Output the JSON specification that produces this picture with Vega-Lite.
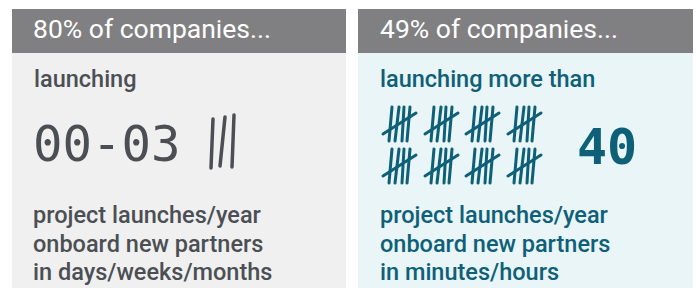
{
  "$schema": "https://vega.github.io/schema/vega-lite/v6.json",
  "width": 696,
  "height": 288,
  "autosize": {"type": "fit", "contains": "padding"},
  "padding": 0,
  "background": "#ffffff",
  "config": {"view": {"stroke": null}, "font": "Roboto"},
  "datasets": {
    "panels": [
      {"panel": "left", "x0": 12, "x1": 346, "top": 9, "mid": 53, "bottom": 288},
      {"panel": "right", "x0": 358, "x1": 693, "top": 9, "mid": 53, "bottom": 288}
    ],
    "texts": [
      {"panel": "left", "role": "header", "text": "80% of companies...", "x": 33, "y": 38},
      {"panel": "right", "role": "header", "text": "49% of companies...", "x": 380, "y": 38},
      {"panel": "left", "role": "body", "text": "launching", "x": 34, "y": 87},
      {"panel": "right", "role": "body", "text": "launching more than", "x": 380, "y": 87},
      {"panel": "left", "role": "body", "text": "project launches/year", "x": 33, "y": 223},
      {"panel": "left", "role": "body", "text": "onboard new partners", "x": 33, "y": 252},
      {"panel": "left", "role": "body", "text": "in days/weeks/months", "x": 33, "y": 280},
      {"panel": "right", "role": "body", "text": "project launches/year", "x": 380, "y": 223},
      {"panel": "right", "role": "body", "text": "onboard new partners", "x": 380, "y": 252},
      {"panel": "right", "role": "body", "text": "in minutes/hours", "x": 380, "y": 280},
      {"panel": "left", "role": "big", "text": "00-03", "x": 33, "y": 161},
      {"panel": "right", "role": "big", "text": "40", "x": 577, "y": 164}
    ],
    "tallies": [
      {"panel": "left", "x": 211, "y": 168, "x2": 213, "y2": 119},
      {"panel": "left", "x": 220, "y": 166, "x2": 225, "y2": 117},
      {"panel": "left", "x": 232, "y": 167, "x2": 234, "y2": 115},

      {"panel": "right", "x": 389, "y": 141, "x2": 392, "y2": 107},
      {"panel": "right", "x": 395, "y": 141, "x2": 399, "y2": 107},
      {"panel": "right", "x": 402, "y": 141, "x2": 404, "y2": 107},
      {"panel": "right", "x": 407, "y": 141, "x2": 410, "y2": 107},
      {"panel": "right", "x": 383, "y": 134, "x2": 416, "y2": 113},

      {"panel": "right", "x": 431, "y": 141, "x2": 434, "y2": 107},
      {"panel": "right", "x": 437, "y": 141, "x2": 441, "y2": 107},
      {"panel": "right", "x": 444, "y": 141, "x2": 446, "y2": 107},
      {"panel": "right", "x": 449, "y": 141, "x2": 452, "y2": 107},
      {"panel": "right", "x": 425, "y": 134, "x2": 458, "y2": 113},

      {"panel": "right", "x": 472, "y": 141, "x2": 475, "y2": 107},
      {"panel": "right", "x": 478, "y": 141, "x2": 482, "y2": 107},
      {"panel": "right", "x": 485, "y": 141, "x2": 487, "y2": 107},
      {"panel": "right", "x": 490, "y": 141, "x2": 493, "y2": 107},
      {"panel": "right", "x": 466, "y": 134, "x2": 499, "y2": 113},

      {"panel": "right", "x": 514, "y": 141, "x2": 517, "y2": 107},
      {"panel": "right", "x": 520, "y": 141, "x2": 524, "y2": 107},
      {"panel": "right", "x": 527, "y": 141, "x2": 529, "y2": 107},
      {"panel": "right", "x": 532, "y": 141, "x2": 535, "y2": 107},
      {"panel": "right", "x": 508, "y": 134, "x2": 541, "y2": 113},

      {"panel": "right", "x": 389, "y": 183, "x2": 392, "y2": 149},
      {"panel": "right", "x": 395, "y": 183, "x2": 399, "y2": 149},
      {"panel": "right", "x": 402, "y": 183, "x2": 404, "y2": 149},
      {"panel": "right", "x": 407, "y": 183, "x2": 410, "y2": 149},
      {"panel": "right", "x": 383, "y": 176, "x2": 416, "y2": 155},

      {"panel": "right", "x": 431, "y": 183, "x2": 434, "y2": 149},
      {"panel": "right", "x": 437, "y": 183, "x2": 441, "y2": 149},
      {"panel": "right", "x": 444, "y": 183, "x2": 446, "y2": 149},
      {"panel": "right", "x": 449, "y": 183, "x2": 452, "y2": 149},
      {"panel": "right", "x": 425, "y": 176, "x2": 458, "y2": 155},

      {"panel": "right", "x": 472, "y": 183, "x2": 475, "y2": 149},
      {"panel": "right", "x": 478, "y": 183, "x2": 482, "y2": 149},
      {"panel": "right", "x": 485, "y": 183, "x2": 487, "y2": 149},
      {"panel": "right", "x": 490, "y": 183, "x2": 493, "y2": 149},
      {"panel": "right", "x": 466, "y": 176, "x2": 499, "y2": 155},

      {"panel": "right", "x": 514, "y": 183, "x2": 517, "y2": 149},
      {"panel": "right", "x": 520, "y": 183, "x2": 524, "y2": 149},
      {"panel": "right", "x": 527, "y": 183, "x2": 529, "y2": 149},
      {"panel": "right", "x": 532, "y": 183, "x2": 535, "y2": 149},
      {"panel": "right", "x": 508, "y": 176, "x2": 541, "y2": 155}
    ]
  },
  "layer": [
    {
      "data": {"name": "panels"},
      "mark": {"type": "rect"},
      "encoding": {
        "x": {"field": "x0", "type": "quantitative", "scale": {"domain": [0, 696], "nice": false, "zero": false}, "axis": null},
        "x2": {"field": "x1"},
        "y": {"field": "mid", "type": "quantitative", "scale": {"domain": [0, 288], "nice": false, "zero": false, "reverse": true}, "axis": null},
        "y2": {"field": "bottom"},
        "color": {"field": "panel", "type": "nominal", "scale": {"domain": ["left", "right"], "range": ["#f0f0f0", "#e9f5f6"]}, "legend": null}
      }
    },
    {
      "data": {"name": "panels"},
      "mark": {"type": "rect", "color": "#808083"},
      "encoding": {
        "x": {"field": "x0", "type": "quantitative"},
        "x2": {"field": "x1"},
        "y": {"field": "top", "type": "quantitative"},
        "y2": {"field": "mid"}
      }
    },
    {
      "data": {"name": "texts"},
      "transform": [{"filter": "datum.role === 'header'"}],
      "mark": {"type": "text", "align": "left", "baseline": "alphabetic", "font": "Roboto", "fontSize": 26.5, "color": "#ffffff"},
      "encoding": {
        "x": {"field": "x", "type": "quantitative"},
        "y": {"field": "y", "type": "quantitative"},
        "text": {"field": "text"}
      }
    },
    {
      "data": {"name": "texts"},
      "transform": [{"filter": "datum.role === 'body' && datum.panel === 'left'"}],
      "mark": {"type": "text", "align": "left", "baseline": "alphabetic", "font": "Roboto", "fontSize": 23.5, "fontWeight": 500, "color": "#4b4f54"},
      "encoding": {
        "x": {"field": "x", "type": "quantitative"},
        "y": {"field": "y", "type": "quantitative"},
        "text": {"field": "text"}
      }
    },
    {
      "data": {"name": "texts"},
      "transform": [{"filter": "datum.role === 'body' && datum.panel === 'right'"}],
      "mark": {"type": "text", "align": "left", "baseline": "alphabetic", "font": "Roboto", "fontSize": 23.5, "fontWeight": 500, "color": "#0e6079"},
      "encoding": {
        "x": {"field": "x", "type": "quantitative"},
        "y": {"field": "y", "type": "quantitative"},
        "text": {"field": "text"}
      }
    },
    {
      "data": {"name": "texts"},
      "transform": [{"filter": "datum.role === 'big' && datum.panel === 'left'"}],
      "mark": {"type": "text", "align": "left", "baseline": "alphabetic", "font": "DejaVu Sans Mono", "fontSize": 49, "color": "#4b4f54"},
      "encoding": {
        "x": {"field": "x", "type": "quantitative"},
        "y": {"field": "y", "type": "quantitative"},
        "text": {"field": "text"}
      }
    },
    {
      "data": {"name": "texts"},
      "transform": [{"filter": "datum.role === 'big' && datum.panel === 'right'"}],
      "mark": {"type": "text", "align": "left", "baseline": "alphabetic", "font": "DejaVu Sans Mono", "fontSize": 50, "fontWeight": "bold", "color": "#0e6079"},
      "encoding": {
        "x": {"field": "x", "type": "quantitative"},
        "y": {"field": "y", "type": "quantitative"},
        "text": {"field": "text"}
      }
    },
    {
      "data": {"name": "tallies"},
      "transform": [{"filter": "datum.panel === 'left'"}],
      "mark": {"type": "rule", "strokeWidth": 3.5, "strokeCap": "round", "color": "#4b4f54"},
      "encoding": {
        "x": {"field": "x", "type": "quantitative"},
        "y": {"field": "y", "type": "quantitative"},
        "x2": {"field": "x2"},
        "y2": {"field": "y2"}
      }
    },
    {
      "data": {"name": "tallies"},
      "transform": [{"filter": "datum.panel === 'right'"}],
      "mark": {"type": "rule", "strokeWidth": 3, "strokeCap": "round", "color": "#0e6079"},
      "encoding": {
        "x": {"field": "x", "type": "quantitative"},
        "y": {"field": "y", "type": "quantitative"},
        "x2": {"field": "x2"},
        "y2": {"field": "y2"}
      }
    }
  ]
}
